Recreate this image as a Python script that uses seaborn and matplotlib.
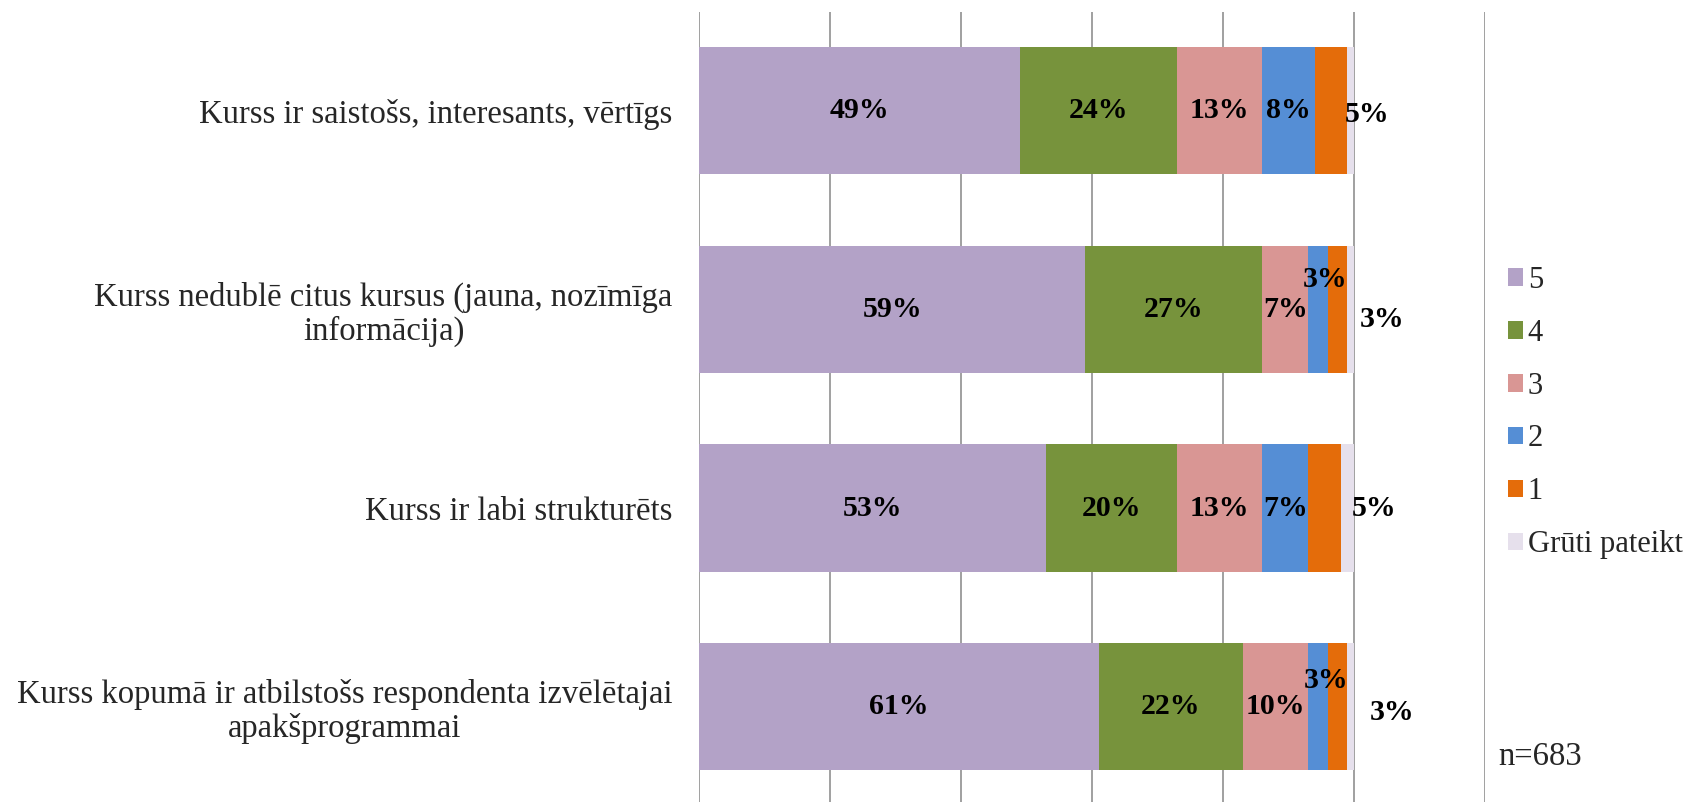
import matplotlib
matplotlib.use("Agg")
import matplotlib.pyplot as plt
import seaborn as sns
import pandas as pd
import numpy as np
from matplotlib.patches import Patch

categories = [
    "Kurss ir saistošs, interesants, vērtīgs",
    "Kurss nedublē citus kursus (jauna, nozīmīga\ninformācija)",
    "Kurss ir labi strukturēts",
    "Kurss kopumā ir atbilstošs respondenta izvēlētajai\napakšprogrammai",
]
series_names = ["5", "4", "3", "2", "1", "Grūti pateikt"]
v5 = [49, 59, 53, 61]
v4 = [24, 27, 20, 22]
v3 = [13, 7, 13, 10]
v2 = [8, 3, 7, 3]
v1 = [5, 3, 5, 3]
v_gp = [1, 1, 2, 1]
n_text = "n=683"

colors = ["#B3A2C7", "#77933C", "#D99694", "#558ED5", "#E46C0A", "#E6E0EC"]

sns.set_theme(style="white")
plt.rcParams["font.family"] = ["Liberation Serif", "DejaVu Serif"]

values = [v5, v4, v3, v2, v1, v_gp]
df = pd.DataFrame({"cat": categories})
cum = np.zeros(len(categories))
cums = []
for s, v in zip(series_names, values):
    cum = cum + np.array(v)
    cums.append(cum.copy())
    df[s] = cum.copy()

fig = plt.figure(figsize=(16.86, 8.02), dpi=100)
ax = fig.add_axes([699 / 1686, 0, (1485 - 699) / 1686, (802 - 12) / 802])

# draw cumulative bars from largest to smallest so they stack visually
for s, c in reversed(list(zip(series_names, colors))):
    sns.barplot(data=df, y="cat", x=s, order=categories, color=c, width=0.64,
                orient="h", ax=ax, saturation=1, edgecolor="none", linewidth=0)

ax.set_xlim(0, 120)
ax.set_ylim(3.48, -0.497)
ax.set_xticks(np.arange(0, 121, 20))
ax.set_xticklabels([])
ax.tick_params(axis="x", length=0)
ax.tick_params(axis="y", length=0, pad=19, labelsize=23.5)
ax.xaxis.grid(True, color="#a0a0a0", linewidth=1.4)
ax.set_axisbelow(True)
for sp in ax.spines.values():
    sp.set_visible(False)
ax.set_xlabel("")
ax.set_ylabel("")
plt.setp(ax.get_yticklabels(), multialignment="center", linespacing=1.1)

# data labels (segment centres; a few moved like in the original)
label_shift = {  # (series index, row) -> (x position override, y offset)
    (4, 0): (102.0, 0.02),
    (4, 1): (104.3, 0.05),
    (4, 2): (103.0, 0.0),
    (4, 3): (105.8, 0.03),
    (3, 1): (95.6, -0.15),
    (3, 3): (95.8, -0.13),
}
for si in range(5):
    for r in range(len(categories)):
        start = cums[si][r] - values[si][r]
        x = start + values[si][r] / 2
        dy = 0.0
        if (si, r) in label_shift:
            x, dy = label_shift[(si, r)]
        ax.text(x, r + dy, f"{values[si][r]}%", ha="center", va="center",
                fontsize=21.5, fontweight="bold", color="black")

handles = [Patch(facecolor=c, edgecolor="none") for c in colors]
fig.legend(handles, series_names, loc="upper left",
           bbox_to_anchor=(1508 / 1686, 1 - 266 / 802), frameon=False,
           borderpad=0, borderaxespad=0,
           fontsize=22, handlelength=0.5, handleheight=0.5,
           handletextpad=0.15, labelspacing=0.78)
fig.text(1498 / 1686, 1 - 757 / 802, n_text, fontsize=23.5, va="center", ha="left")

fig.savefig("out.png", dpi=100)
